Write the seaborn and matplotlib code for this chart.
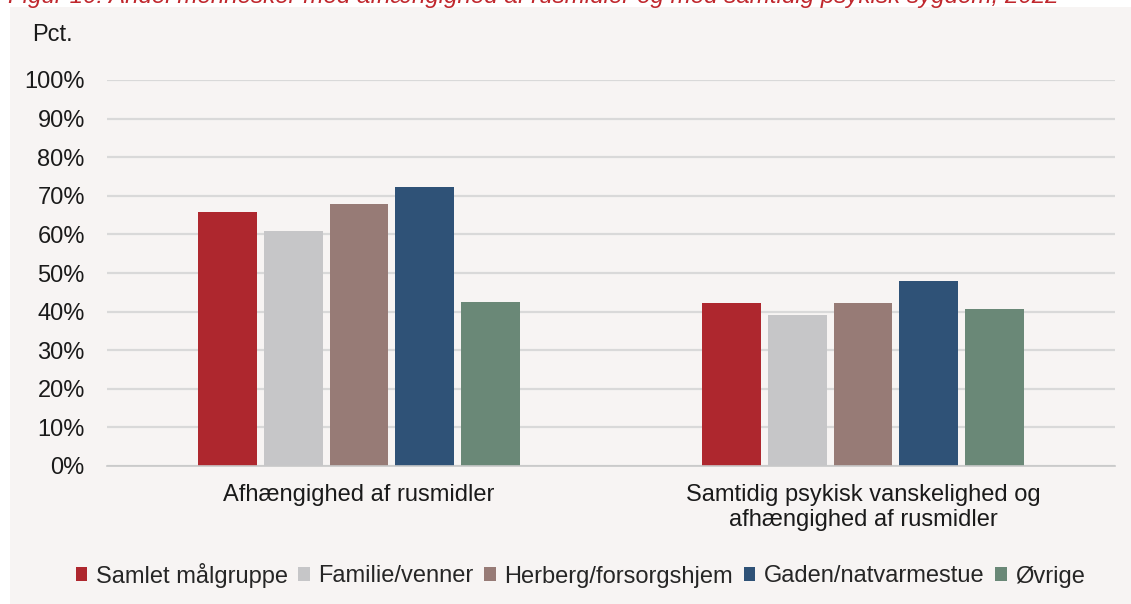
import matplotlib
matplotlib.use("Agg")
import matplotlib.pyplot as plt
import seaborn as sns
import pandas as pd
from matplotlib.patches import Rectangle
from matplotlib.ticker import FuncFormatter

categories = ["Afhængighed af rusmidler",
              "Samtidig psykisk vanskelighed og\nafhængighed af rusmidler"]
series = ["Samlet målgruppe", "Familie/venner", "Herberg/forsorgshjem",
          "Gaden/natvarmestue", "Øvrige"]
samlet = [65.8, 42.1]
familie = [60.9, 39.0]
herberg = [67.9, 42.1]
gaden = [72.2, 47.9]
ovrige = [42.5, 40.7]
colors = ["#AE272E", "#C6C6C8", "#977B76", "#2F5277", "#6A8877"]
title = "Figur 10: Andel mennesker med afhængighed af rusmidler og med samtidig psykisk sygdom, 2022"

rows = []
for name, vals in zip(series, [samlet, familie, herberg, gaden, ovrige]):
    for c, v in zip(categories, vals):
        rows.append({"cat": c, "serie": name, "val": v})
df = pd.DataFrame(rows)

sns.set_theme(style="white")
plt.rcParams["font.family"] = ["Liberation Sans", "DejaVu Sans"]

FS = 17
bg = "#F7F4F3"
fig = plt.figure(figsize=(11.31, 6.04), dpi=100)
fig.patch.set_facecolor("white")
fig.patches.append(Rectangle((10/1131, 0), 1, 1 - 7/604, transform=fig.transFigure,
                             facecolor=bg, edgecolor="none", zorder=-10))
ax = fig.add_axes([107/1131, 1 - 466/604, (1115 - 107)/1131, (466 - 80)/604])
ax.set_facecolor(bg)

sns.barplot(data=df, x="cat", y="val", hue="serie", palette=colors, ax=ax,
            width=0.65, gap=0.1, saturation=1, edgecolor="none", legend=True)

ax.set_ylim(0, 100)
ax.set_yticks(range(0, 101, 10))
ax.yaxis.set_major_formatter(FuncFormatter(lambda v, p: f"{int(v)}%"))
ax.grid(axis="y", color="#D9D9D9", linewidth=1.6)
ax.set_axisbelow(True)
for s in ["top", "right", "left"]:
    ax.spines[s].set_visible(False)
ax.spines["bottom"].set_color("#C8C8C8")
ax.spines["bottom"].set_linewidth(1.2)
ax.set_xlabel("")
ax.set_ylabel("")
ax.tick_params(axis="y", length=0, pad=16, labelsize=FS, labelcolor="#1a1a1a")
ax.tick_params(axis="x", length=0, pad=13, labelsize=FS, labelcolor="#1a1a1a")
for lbl in ax.get_xticklabels():
    lbl.set_linespacing(1.15)

fig.text(32/1131, 1 - 35/604, "Pct.", fontsize=FS, va="center", ha="left", color="#1a1a1a")

ax.legend_.remove()
handles = [Rectangle((0, 0), 1, 1, facecolor=c, edgecolor="none") for c in colors]
fig.legend(handles, series, loc="center", bbox_to_anchor=(0.513, 1 - 575/604), ncol=5,
           frameon=False, fontsize=FS, handlelength=0.5, handleheight=0.5,
           handletextpad=0.35, columnspacing=0.45, borderaxespad=0)

fig.text(8/1131, 1 - 3/604, title, fontsize=17.4, style="italic", color="#C0272D",
         ha="left", va="baseline")

fig.savefig("out.png", dpi=100, facecolor=fig.get_facecolor())
